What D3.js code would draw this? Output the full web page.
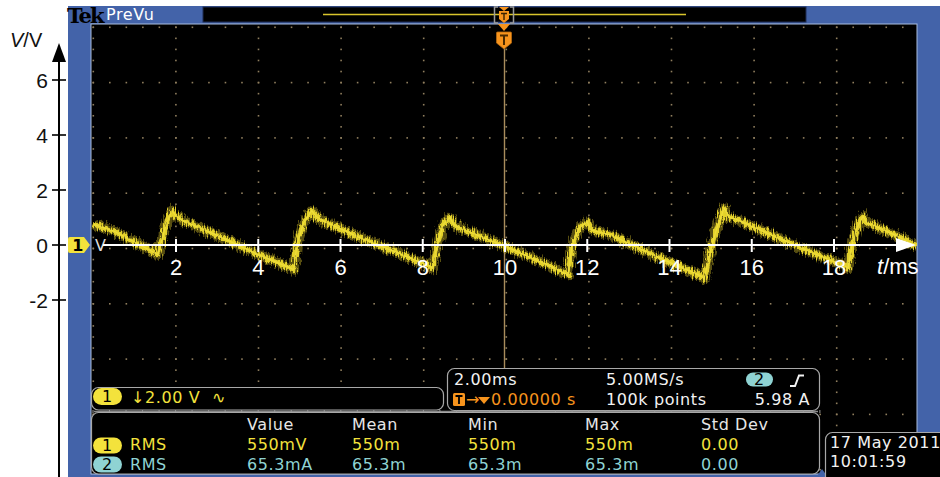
<!DOCTYPE html>
<html>
<head>
<meta charset="utf-8">
<script src="https://cdn.jsdelivr.net/npm/d3@7"></script>
<style>
  html, body { margin: 0; padding: 0; background: #ffffff; }
  svg { display: block; }
  .ui { font-family: "DejaVu Sans", sans-serif; font-size: 16px; letter-spacing: 0.6px; }
  .ax { font-family: "Liberation Sans", Arial, sans-serif; }
</style>
</head>
<body>
<svg id="chart" width="940" height="477"></svg>
<script>
// ---- data ----
const timeTicks = [2, 4, 6, 8, 10, 12, 14, 16, 18];   // ms
const voltTicks = [-2, 0, 2, 4, 6];                    // V
// channel 1 sawtooth trace, vertices (t in ms, u in V)
const traceT = [0.0, 0.5, 1.0, 1.5, 1.56, 1.62, 1.75, 1.9, 2.0, 2.17,
                3.0, 4.0, 4.8, 4.86, 4.94, 5.1, 5.3, 5.4, 5.57,
                6.5, 7.5, 8.18, 8.24, 8.35, 8.5, 8.66, 8.75, 8.9,
                10.0, 11.0, 11.48, 11.53, 11.63, 11.8, 11.99, 12.1, 12.2, 12.6,
                13.5, 14.5, 14.79, 14.84, 15.03, 15.15, 15.33, 15.45, 15.6,
                16.5, 17.5, 18.29, 18.34, 18.44, 18.55, 18.71, 18.8, 18.95,
                19.5, 20.0];
const traceV = [0.75, 0.5, 0.1, -0.3, -0.35, 0.0, 0.7, 1.25, 1.05, 0.88,
                0.35, -0.35, -0.85, -0.9, 0.0, 0.8, 1.25, 1.05, 0.88,
                0.25, -0.35, -0.78, -0.85, 0.0, 0.75, 1.0, 0.75, 0.62,
                -0.05, -0.7, -1.05, -1.1, 0.0, 0.6, 0.85, 0.55, 0.5, 0.35,
                -0.3, -0.95, -1.15, -1.25, 0.0, 0.6, 1.35, 1.0, 0.95,
                0.35, -0.3, -0.78, -0.85, 0.0, 0.6, 1.05, 0.8, 0.72,
                0.35, -0.05];
// measurement readout
const measHeaders = ["Value", "Mean", "Min", "Max", "Std Dev"];
const ch1Meas = ["550mV", "550m", "550m", "550m", "0.00"];
const ch2Meas = ["65.3mA", "65.3m", "65.3m", "65.3m", "0.00"];
const measName = "RMS";
const channelScale = "\u21932.00 V";
const timebase = "2.00ms";
const sampleRate = "5.00MS/s";
const recordLength = "100k points";
const triggerLevel = "5.98 A";
const triggerPos = "0.00000 s";
const dateStr = "17 May 2011";
const timeStr = "10:01:59";

// ---- palette ----
const BLUE = "#4363a9", YEL = "#f3e23c", CYAN = "#8fd3d3", ORANGE = "#f7941d",
      DOT = "#8f7e5e", PANEL = "#a8a8a8";

const svg = d3.select("#chart");

// scales
const x = d3.scaleLinear().domain([0, 20]).range([93.75, 916.25]);
const y = d3.scaleLinear().domain([0, 6]).range([245, 80]);
const gx = d3.scaleLinear().domain([0, 10]).range([91, 917]);   // graticule divisions
const gy = d3.scaleLinear().domain([0, 8]).range([24, 466.4]);

const defs = svg.append("defs");
const f = defs.append("filter").attr("id", "grain")
  .attr("x", "-5%").attr("y", "-30%").attr("width", "110%").attr("height", "160%");
f.append("feTurbulence").attr("type", "fractalNoise").attr("baseFrequency", "0.9 0.12")
  .attr("numOctaves", 2).attr("seed", 7).attr("result", "n");
f.append("feDisplacementMap").attr("in", "SourceGraphic").attr("in2", "n")
  .attr("scale", 10).attr("xChannelSelector", "R").attr("yChannelSelector", "G");
defs.append("clipPath").attr("id", "scr").append("rect")
  .attr("x", 91).attr("y", 24).attr("width", 826).attr("height", 450);

// ---- instrument frame ----
svg.append("rect").attr("x", 68).attr("y", 6).attr("width", 872).attr("height", 471).attr("fill", BLUE);
svg.append("rect").attr("x", 91).attr("y", 24).attr("width", 826).attr("height", 450)
  .attr("fill", "#000").attr("stroke", "#a9bde0").attr("stroke-width", 1);

// top bar
svg.append("text").attr("x", 67).attr("y", 22.5).attr("font-family", "DejaVu Serif, serif")
  .attr("font-weight", "bold").attr("font-size", 21).attr("letter-spacing", -1.8)
  .attr("fill", "#000").text("Tek");
svg.append("text").attr("class", "ui").attr("x", 106).attr("y", 20).attr("font-size", 15)
  .attr("fill", "#fff").text("PreVu");
svg.append("rect").attr("x", 203).attr("y", 7).attr("width", 603).attr("height", 15)
  .attr("fill", "#000").attr("stroke", "#1f2d55");
svg.append("line").attr("x1", 323).attr("x2", 686).attr("y1", 14.5).attr("y2", 14.5)
  .attr("stroke", "#d9c52c").attr("stroke-width", 1.6);
// trigger bracket in record view
svg.append("path").attr("d", "M498,7 H494.5 V23 H498 M510,7 H513.5 V23 H510")
  .attr("fill", "none").attr("stroke", "#9a9a9a").attr("stroke-width", 1.5);
svg.append("path").attr("d", "M499,7 L509,7 L504,11 Z").attr("fill", ORANGE);
svg.append("path").attr("d", "M499,11 H509 V19 L504,23 L499,19 Z").attr("fill", ORANGE);
svg.append("path").attr("d", "M501,13.5 H507 M504,13.5 V20").attr("stroke", "#3a2200").attr("stroke-width", 1.4);

// ---- graticule ----
const grat = svg.append("g").attr("clip-path", "url(#scr)");
const dots = [];
for (let i = 0; i <= 10; i++) {
  for (let k = 0; k <= 40; k++) dots.push([gx(i), gy(k / 5)]);
}
for (let j = 0; j <= 8; j++) {
  for (let k = 0; k <= 50; k++) dots.push([gx(k / 5), gy(j)]);
}
grat.selectAll("rect.dot").data(dots).join("rect").attr("class", "dot")
  .attr("x", d => d[0] + 1.5).attr("y", d => d[1] + 2.5).attr("width", 1.6).attr("height", 1.6)
  .attr("fill", DOT);
// trigger position line
grat.append("line").attr("x1", 504.5).attr("x2", 504.5).attr("y1", 48).attr("y2", 368)
  .attr("stroke", "#a88c5c").attr("stroke-width", 1.4);
// trigger marker
svg.append("path").attr("d", "M498,24 L510,24 L504,31 Z").attr("fill", ORANGE);
svg.append("path").attr("d", "M497.5,32 H510.5 Q511.5,32 511.5,33 V43 L504,49 L496.5,43 V33 Q496.5,32 497.5,32 Z")
  .attr("fill", ORANGE).attr("stroke", "#b86a10").attr("stroke-width", 0.8);
svg.append("path").attr("d", "M500,35.5 H508 M504,35.5 V45").attr("stroke", "#4a2a00").attr("stroke-width", 2);

// ---- waveform ----
const pts = traceT.map((t, i) => [x(t), y(traceV[i])]);
const line = d3.line();
const wave = svg.append("g").attr("clip-path", "url(#scr)");
wave.append("path").attr("d", line(pts)).attr("fill", "none")
  .attr("stroke", "#a09020").attr("stroke-width", 10).attr("stroke-opacity", 0.55)
  .attr("stroke-linejoin", "round").attr("filter", "url(#grain)");
wave.append("path").attr("d", line(pts)).attr("fill", "none")
  .attr("stroke", "#e4d22c").attr("stroke-width", 5)
  .attr("stroke-linejoin", "round").attr("filter", "url(#grain)");
wave.append("path").attr("d", line(pts)).attr("fill", "none")
  .attr("stroke", "#f6e64a").attr("stroke-width", 1.2).attr("stroke-opacity", 0.6)
  .attr("stroke-linejoin", "round");

// channel 1 ground marker
svg.append("path").attr("d", "M70,237 H84 L90,245 L84,253 H70 Q68,253 68,251 V239 Q68,237 70,237 Z").attr("fill", YEL);
svg.append("text").attr("class", "ui").attr("x", 78).attr("y", 250.5).attr("text-anchor", "middle")
  .attr("font-size", 13).attr("font-weight", "bold").attr("fill", "#000").text("1");
svg.append("text").attr("class", "ui").attr("x", 95).attr("y", 251).attr("font-size", 12)
  .attr("fill", "#ddd").text("V");

// ---- time axis (white, drawn on the screen) ----
svg.append("line").attr("x1", 103).attr("x2", 898).attr("y1", y(0)).attr("y2", y(0))
  .attr("stroke", "#fff").attr("stroke-width", 2.2);
svg.append("path").attr("d", `M896,${y(0) - 7} L916,${y(0)} L896,${y(0) + 7} Z`).attr("fill", "#fff");
const tAxis = svg.append("g").attr("class", "ax");
tAxis.selectAll("line.tt").data(timeTicks).join("line").attr("class", "tt")
  .attr("x1", d => x(d)).attr("x2", d => x(d)).attr("y1", y(0) - 6).attr("y2", y(0) + 7)
  .attr("stroke", "#fff").attr("stroke-width", 2);
tAxis.selectAll("text").data(timeTicks).join("text")
  .attr("x", d => x(d)).attr("y", 275).attr("text-anchor", "middle")
  .attr("font-size", 22).attr("fill", "#fff").text(d => d);
const tl = svg.append("text").attr("class", "ax").attr("x", 877).attr("y", 274)
  .attr("font-size", 22).attr("fill", "#fff");
tl.append("tspan").attr("font-style", "italic").text("t");
tl.append("tspan").text("/ms");

// ---- voltage axis (black, outside the screen) ----
svg.append("line").attr("x1", 59).attr("x2", 59).attr("y1", 58).attr("y2", 477)
  .attr("stroke", "#000").attr("stroke-width", 2);
svg.append("path").attr("d", "M52,62 L59,43 L66,62 Z").attr("fill", "#000");
const vAxis = svg.append("g").attr("class", "ax");
vAxis.selectAll("line").data(voltTicks).join("line")
  .attr("x1", 52).attr("x2", 66).attr("y1", d => y(d)).attr("y2", d => y(d))
  .attr("stroke", "#000").attr("stroke-width", 1.6);
vAxis.selectAll("text").data(voltTicks).join("text")
  .attr("x", 48).attr("y", d => y(d) + 7.5).attr("text-anchor", "end")
  .attr("font-size", 21).attr("fill", "#111").text(d => d);
const vl = svg.append("text").attr("class", "ax").attr("x", 10).attr("y", 47)
  .attr("font-size", 20).attr("fill", "#111");
vl.append("tspan").attr("font-style", "italic").text("V");
vl.append("tspan").text("/V");

// ---- readout panels ----
function pill(cx, cy, w, h, fill, label) {
  svg.append("rect").attr("x", cx - w / 2).attr("y", cy - h / 2).attr("width", w).attr("height", h)
    .attr("rx", h / 2).attr("fill", fill);
  svg.append("text").attr("class", "ui").attr("x", cx).attr("y", cy + 5.5).attr("text-anchor", "middle")
    .attr("font-size", 15).attr("fill", "#000").text(label);
}

// channel panel
svg.append("rect").attr("x", 91.5).attr("y", 387.5).attr("width", 352).attr("height", 22.5)
  .attr("rx", 7).attr("fill", "#000").attr("stroke", PANEL).attr("stroke-width", 1.2);
pill(107.5, 396.5, 29, 17, YEL, "1");
svg.append("text").attr("class", "ui").attr("x", 131).attr("y", 403).attr("fill", YEL).text(channelScale);
svg.append("text").attr("class", "ui").attr("x", 212).attr("y", 403).attr("fill", YEL).text("\u223F");

// timebase / trigger panel
svg.append("rect").attr("x", 447.5).attr("y", 368.5).attr("width", 372).attr("height", 42)
  .attr("rx", 7).attr("fill", "#000").attr("stroke", PANEL).attr("stroke-width", 1.2);
svg.append("text").attr("class", "ui").attr("x", 454).attr("y", 385).attr("fill", "#f2f2f2").text(timebase);
svg.append("text").attr("class", "ui").attr("x", 606).attr("y", 385).attr("fill", "#f2f2f2").text(sampleRate);
pill(759.5, 379.5, 27, 14, CYAN, "2");
svg.append("path").attr("d", "M790,386 H795 L799,375.5 H804").attr("fill", "none")
  .attr("stroke", "#f2f2f2").attr("stroke-width", 2);
svg.append("rect").attr("x", 453).attr("y", 393).attr("width", 12).attr("height", 13).attr("rx", 1.5).attr("fill", ORANGE);
svg.append("path").attr("d", "M455.5,396 H462.5 M459,396 V404").attr("stroke", "#000").attr("stroke-width", 1.8);
svg.append("text").attr("class", "ui").attr("x", 466).attr("y", 405).attr("font-size", 13).attr("fill", ORANGE).text("\u2192");
svg.append("path").attr("d", "M478,397 L490,397 L484,404 Z").attr("fill", ORANGE);
svg.append("text").attr("class", "ui").attr("x", 491).attr("y", 405).attr("fill", ORANGE).text(triggerPos);
svg.append("text").attr("class", "ui").attr("x", 606).attr("y", 405).attr("fill", "#f2f2f2").text(recordLength);
svg.append("text").attr("class", "ui").attr("x", 810).attr("y", 405).attr("text-anchor", "end")
  .attr("fill", "#f2f2f2").text(triggerLevel);

// separator ruler with small ticks
svg.append("line").attr("x1", 94).attr("x2", 818).attr("y1", 411.5).attr("y2", 411.5)
  .attr("stroke", "#8a8a8a").attr("stroke-width", 1.5);
svg.selectAll("line.rt").data(d3.range(0, 45)).join("line").attr("class", "rt")
  .attr("x1", k => gx(k / 5) + 2).attr("x2", k => gx(k / 5) + 2)
  .attr("y1", 410).attr("y2", 413).attr("stroke", "#9a9a9a").attr("stroke-width", 1);

// measurement panel
svg.append("rect").attr("x", 91.5).attr("y", 412.5).attr("width", 728).attr("height", 61.5)
  .attr("rx", 7).attr("fill", "#000").attr("stroke", PANEL).attr("stroke-width", 1.2);
const colX = [247, 352, 468, 585, 701];
svg.selectAll("text.mh").data(measHeaders).join("text").attr("class", "ui mh")
  .attr("x", (d, i) => colX[i]).attr("y", 430).attr("fill", "#e6e6e6").text(d => d);
pill(107.5, 445.5, 29, 16, YEL, "1");
pill(107.5, 464.5, 29, 16, CYAN, "2");
svg.append("text").attr("class", "ui").attr("x", 130).attr("y", 450).attr("fill", YEL).text(measName);
svg.append("text").attr("class", "ui").attr("x", 130).attr("y", 469.5).attr("fill", CYAN).text(measName);
svg.selectAll("text.m1").data(ch1Meas).join("text").attr("class", "ui m1")
  .attr("x", (d, i) => colX[i]).attr("y", 450).attr("fill", YEL).text(d => d);
svg.selectAll("text.m2").data(ch2Meas).join("text").attr("class", "ui m2")
  .attr("x", (d, i) => colX[i]).attr("y", 469.5).attr("fill", CYAN).text(d => d);
svg.append("path").attr("d", "M817,476 L822,469 L827,476 Z").attr("fill", BLUE);

// date / time panel
svg.append("rect").attr("x", 825.5).attr("y", 432.5).attr("width", 130).attr("height", 60)
  .attr("rx", 7).attr("fill", "#000").attr("stroke", PANEL).attr("stroke-width", 1.2);
svg.append("text").attr("class", "ui").attr("x", 830).attr("y", 448).attr("fill", "#f2f2f2").text(dateStr);
svg.append("text").attr("class", "ui").attr("x", 830).attr("y", 467).attr("fill", "#f2f2f2").text(timeStr);
</script>
</body>
</html>
